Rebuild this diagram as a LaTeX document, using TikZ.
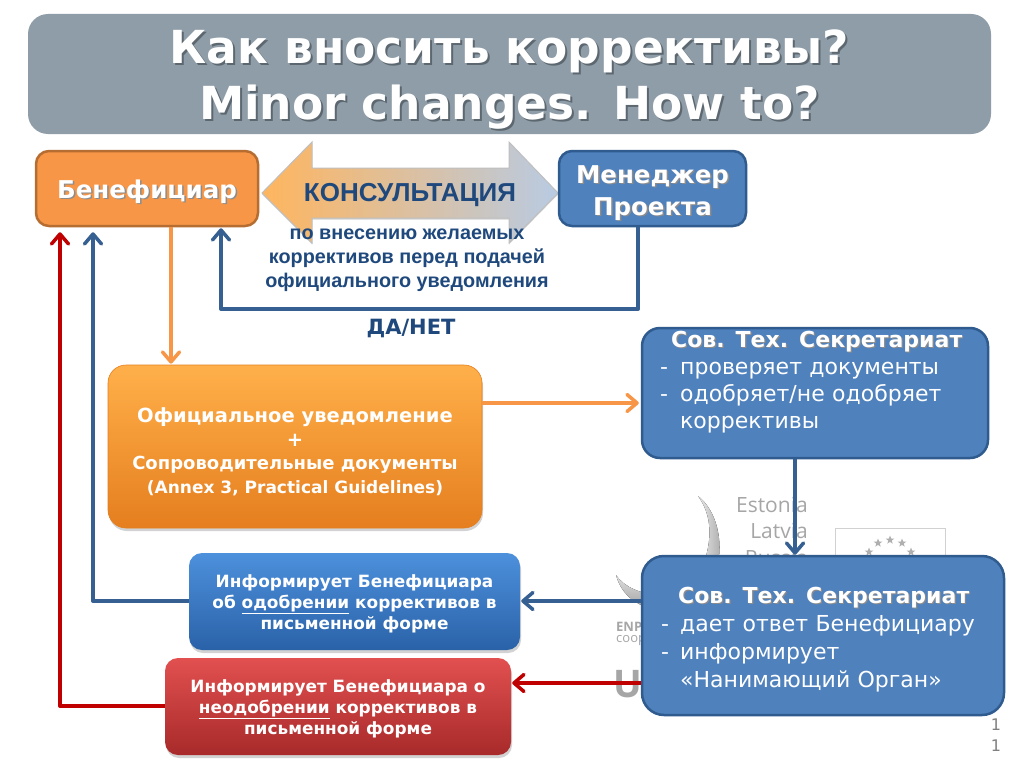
\documentclass[tikz,border=0pt]{standalone}
\usepackage{fontspec}
\setmainfont{DejaVu Sans}
\newfontfamily\arialf{Liberation Sans}
\newfontfamily\logof{Open Sans}
\usetikzlibrary{arrows.meta,shadows,shapes.geometric,calc}
\definecolor{titlegray}{HTML}{8F9DA8}
\definecolor{titleshadow}{HTML}{5C6770}
\definecolor{benfill}{HTML}{F79646}
\definecolor{benedge}{HTML}{B66D31}
\definecolor{mfill}{HTML}{4F81BD}
\definecolor{medge}{HTML}{2F5B8E}
\definecolor{navy}{HTML}{1F497D}
\definecolor{linkblue}{HTML}{376092}
\definecolor{linkred}{HTML}{C00000}
\definecolor{linkorange}{HTML}{F79646}
\definecolor{logogray}{HTML}{A6A6A6}
\definecolor{orA}{HTML}{FFB04A}
\definecolor{orB}{HTML}{FF9A2E}
\definecolor{orC}{HTML}{E57E1E}
\definecolor{blA}{HTML}{4D90DC}
\definecolor{blB}{HTML}{3F80CC}
\definecolor{blC}{HTML}{2A62A8}
\definecolor{reA}{HTML}{E25050}
\definecolor{reB}{HTML}{D24040}
\definecolor{reC}{HTML}{A82A2A}
\definecolor{arA}{HTML}{FFB55E}
\definecolor{arB}{HTML}{E2DAD6}
\definecolor{arC}{HTML}{B8CBE3}
\newcommand{\shtext}[2]{\leavevmode\rlap{\kern#1\raisebox{-#1}{\textcolor{shcol}{#2}}}#2}
\colorlet{shcol}{black!45}
\tikzset{
  x=1pt,y=-1pt,
  flatbox/.style={draw,line width=2.5pt,rounded corners=13pt,inner sep=0pt,text=white,align=center,font=\bfseries},
  benbox/.style={flatbox,fill=benfill,draw=benedge},
  bluebox/.style={flatbox,fill=mfill,draw=medge},
  glossbox/.style={rounded corners=18pt,inner sep=0pt,text=white,align=center,
    drop shadow={shadow xshift=1pt,shadow yshift=-3pt,opacity=.35}},
  link/.style={line width=4pt,line join=round,-{Straight Barb[length=10pt,width=17pt,line width=3.5pt,round]}},
  bluelink/.style={link,draw=linkblue},
  redlink/.style={link,draw=linkred},
  orangelink/.style={link,draw=linkorange},
  logotext/.style={text=logogray,inner sep=0pt,font=\logof\fontsize{21}{21}\selectfont},
  estar/.style={star,star points=5,star point ratio=2.4,fill=logogray!90,inner sep=0pt,minimum size=9pt},
  boxtext/.style={inner sep=0pt,text=white,align=left,anchor=north west,text width=340pt},
}
\begin{document}
\begin{tikzpicture}
\useasboundingbox (0,0) rectangle (1024,768);
\fill[white] (0,0) rectangle (1024,768);

% logo behind the boxes
\node[logotext,anchor=east] (est) at (808,505) {Estonia};
\node[logotext,anchor=east] (lat) at (808,531) {Latvia};
\node[logotext,anchor=east] (rus) at (808,558) {Russia};
\fill[left color=black!8,right color=black!35] (698,496) .. controls (716,510) and (724,540) .. (717,568) -- (702,568) .. controls (713,540) and (712,515) .. (698,496);
\fill[top color=black!12,bottom color=black!38] (616,575) .. controls (625,588) and (640,593) .. (660,596) -- (660,610) .. controls (640,608) and (622,597) .. (616,575);
\node[draw=black!18,line width=.8pt,minimum width=110pt,minimum height=60pt,inner sep=0pt] (flag) at (890,558) {};
\foreach \i/\px/\py in {a/878/543,b/890/540,c/902/543,d/869/552,e/911/552}
  \node[estar] (s\i) at (\px,\py) {};
\node[text=logogray,inner sep=0pt,anchor=west,font=\logof\bfseries\fontsize{13}{13}\selectfont] (enpi) at (616,627) {ENPI};
\node[text=logogray,inner sep=0pt,anchor=west,font=\logof\fontsize{13}{13}\selectfont] (coop) at (616,641) {coop};
\node[text=logogray,inner sep=0pt,anchor=west,font=\logof\bfseries\fontsize{38}{38}\selectfont] (ubig) at (613,684) {U};

% title
\node[fill=titlegray,rounded corners=20pt,minimum width=963pt,minimum height=120pt,inner sep=0pt,align=center,text=white,
  font=\bfseries\fontsize{45.5}{56}\selectfont] (title) at (509.5,74)
  {\colorlet{shcol}{titleshadow}\rule{0pt}{47pt}\shtext{2pt}{Как вносить коррективы?}\\\colorlet{shcol}{titleshadow}\shtext{2pt}{Minor changes. How to?}};

% consultation arrow
\path[draw=black!25,line width=1pt,
  left color=arA,middle color=arB,right color=arC,
  drop shadow={shadow xshift=0pt,shadow yshift=-1.5pt,opacity=.35}]
  (262,193) -- (312,142) -- (312,168) -- (509,168) -- (509,142) -- (558,193) -- (509,243) -- (509,218) -- (312,218) -- (312,243) -- cycle;
\node[inner sep=0pt,text=navy,font=\arialf\bfseries\fontsize{26}{26}\selectfont] (cons) at (410,195) {КОНСУЛЬТАЦИЯ};
\node[inner sep=0pt,text=navy,align=center,font=\arialf\bfseries\fontsize{19.8}{24}\selectfont] (cnote) at (407,260)
  {по внесению желаемых\\коррективов перед подачей\\официального уведомления};
\node[inner sep=0pt,text=navy,font=\bfseries\fontsize{21}{21}\selectfont] (yn) at (411,328) {ДА/НЕТ};

% boxes
\node[benbox,minimum width=222pt,minimum height=75pt,font=\bfseries\fontsize{24.5}{24.5}\selectfont] (ben) at (147,188.5) {\rule{0pt}{26pt}\shtext{1.5pt}{Бенефициар}};
\node[bluebox,minimum width=187pt,minimum height=75pt,font=\bfseries\fontsize{24.5}{32}\selectfont] (man) at (652.5,188.5) {\rule{0pt}{28pt}\shtext{1.5pt}{Менеджер}\\\shtext{1.5pt}{Проекта}};
\node[glossbox,draw=orC,line width=.6pt,top color=orA,middle color=orB,bottom color=orC,
  minimum width=374pt,minimum height=163pt,font=\bfseries\fontsize{19.5}{23.5}\selectfont] (off) at (295,446.5)
  {\rule{0pt}{25pt}Официальное уведомление\\+\\{\fontsize{18}{23}\selectfont Сопроводительные документы}\\{\fontsize{17}{21}\selectfont(Annex 3, Practical Guidelines)}};
\node[bluebox,rounded corners=18pt,minimum width=346pt,minimum height=130pt] (sa) at (815,393) {};
\node[boxtext,font=\fontsize{22}{27.3}\selectfont] (satext) at (642,330.5)
  {\hspace*{29pt}{\bfseries\shtext{1.2pt}{Сов. Тех. Секретариат}}\\
   \hspace*{18pt}\makebox[20pt][l]{-}проверяет документы\\
   \hspace*{18pt}\makebox[20pt][l]{-}одобряет/не одобряет\\
   \hspace*{38pt}коррективы};
\node[bluebox,rounded corners=22pt,minimum width=362pt,minimum height=159pt] (sb) at (823,635.5) {};
\node[boxtext,font=\fontsize{22}{28}\selectfont] (sbtext) at (642,586.5)
  {\hspace*{36pt}{\bfseries\shtext{1.2pt}{Сов. Тех. Секретариат}}\\
   \hspace*{19pt}\makebox[19pt][l]{-}дает ответ Бенефициару\\
   \hspace*{19pt}\makebox[19pt][l]{-}информирует\\
   \hspace*{38pt}«Нанимающий Орган»};
\node[glossbox,rounded corners=13pt,top color=blA,middle color=blB,bottom color=blC,minimum width=331pt,minimum height=97pt,font=\bfseries\fontsize{16.9}{21}\selectfont] (ok) at (354.5,601.5)
  {\rule{0pt}{17pt}Информирует Бенефициара\\об \underline{одобрении} коррективов в\\письменной форме};
\node[glossbox,rounded corners=13pt,top color=reA,middle color=reB,bottom color=reC,minimum width=346pt,minimum height=97pt,font=\bfseries\fontsize{16.9}{21}\selectfont] (no) at (338,706.5)
  {\rule{0pt}{18pt}Информирует Бенефициара о\\\underline{неодобрении} коррективов в\\письменной форме};

% lanes for the connectors
\coordinate (laneA) at (171,0);
\coordinate (laneB) at (93,0);
\coordinate (laneC) at (60,0);
\coordinate (laneD) at (221,0);
\coordinate (laneE) at (638,0);
\coordinate (laneF) at (795,0);
\coordinate (rowA) at (0,403);
\coordinate (rowB) at (0,601);
\coordinate (rowC) at (0,683);
\coordinate (rowD) at (0,706);
\coordinate (rowE) at (0,309);

\draw[orangelink] (ben.south -| laneA) -- ($(off.north -| laneA)+(0,-1)$);
\draw[orangelink] (off.east |- rowA) -- ($(sa.west |- rowA)+(-2,0)$);
\draw[bluelink] (sa.south -| laneF) -- (sb.north -| laneF);
\draw[bluelink] (sb.west |- rowB) -- ($(ok.east |- rowB)+(1,0)$);
\draw[redlink] (sb.west |- rowC) -- ($(no.east |- rowC)+(1,0)$);
\draw[bluelink] (ok.west |- rowB) -| ($(ben.south -| laneB)+(0,5)$);
\draw[redlink] (no.west |- rowD) -| ($(ben.south -| laneC)+(0,5)$);
\draw[bluelink] (man.south -| laneE) |- (rowE -| laneD) -- ($(ben.south -| laneD)+(0,1)$);

% page number
\node[inner sep=0pt,text=black!50,align=center,font=\fontsize{16}{21}\selectfont] (page) at (996,735) {1\\1};
\end{tikzpicture}
\end{document}
